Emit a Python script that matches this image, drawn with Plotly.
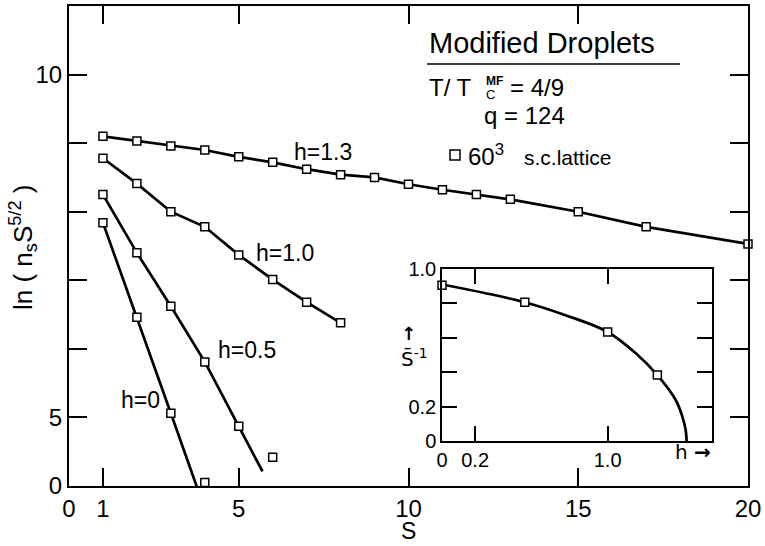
import plotly.graph_objects as go

# ---------------- data ----------------
s_h13 = [1, 2, 3, 4, 5, 6, 7, 8, 9, 10, 11, 12, 13, 15, 17, 20]
y_h13 = [9.10, 9.03, 8.96, 8.90, 8.80, 8.72, 8.62, 8.54, 8.50, 8.40, 8.32, 8.25, 8.18, 8.00, 7.78, 7.53]
s_h10 = [1, 2, 3, 4, 5, 6, 7, 8]
y_h10 = [8.78, 8.41, 8.00, 7.78, 7.37, 7.01, 6.68, 6.38]
s_h05 = [1, 2, 3, 4, 5, 6]
y_h05 = [8.25, 7.40, 6.62, 5.81, 4.87, 4.42]
s_h0 = [1, 2, 3, 4]
y_h0 = [7.84, 6.46, 5.06, 4.05]
# where the drawn line stops for the two steep series (last point is off the line)
line_end_h0 = 3.9
line_end_h05 = 5.7

labels = ["h=1.3", "h=1.0", "h=0.5", "h=0"]

x_tickvals = [0, 1, 5, 10, 15, 20]
x_ticktext = ["0", "1", "5", "10", "15", "20"]
y_tickvals = [4, 5, 6, 7, 8, 9, 10]
y_ticktext = ["0", "5", "", "", "", "", "10"]

# inset: inverse mean cluster size vs h
h_pts = [0.0, 0.5, 1.0, 1.3]
sinv_pts = [0.905, 0.807, 0.634, 0.383]
curve_h = [0.0, 0.25, 0.5, 0.75, 1.0, 1.17, 1.3, 1.41, 1.45, 1.47, 1.477]
curve_y = [0.91, 0.862, 0.807, 0.73, 0.634, 0.51, 0.383, 0.24, 0.145, 0.07, 0.0]
inset_xtickvals = [0, 0.2, 1.0]
inset_xticktext = ["0", "0.2", "1.0"]
inset_ytickvals = [0, 0.2, 0.4, 0.6, 0.8, 1.0]
inset_yticktext = ["0", "0.2", "", "", "", "1.0"]

FONT = "Liberation Sans"
W, H = 765, 546
ML, MR, MT, MB = 69, 17, 6, 60
PW, PH = W - ML - MR, H - MT - MB


def px(x):
    return (x - ML) / PW


def py(y):
    return (H - MB - y) / PH


def extend(xs, ys, x_end):
    # continue the last drawn segment up to x_end
    x1, x2 = xs[-2], xs[-1]
    y1, y2 = ys[-2], ys[-1]
    slope = (y2 - y1) / (x2 - x1)
    return list(xs) + [x_end], list(ys) + [y2 + slope * (x_end - x2)]


fig = go.Figure()

line_style = dict(color="black", width=2.7)
marker_style = dict(symbol="square", size=8, color="white", line=dict(color="black", width=1.5))

lines = [
    (s_h13, y_h13),
    (s_h10, y_h10),
    extend(s_h05[:-1], y_h05[:-1], line_end_h05),
    extend(s_h0[:-1], y_h0[:-1], line_end_h0),
]
for xs, ys in lines:
    fig.add_trace(go.Scatter(x=xs, y=ys, mode="lines", line=line_style,
                             showlegend=False, hoverinfo="skip"))
for xs, ys in [(s_h13, y_h13), (s_h10, y_h10), (s_h05, y_h05), (s_h0, y_h0)]:
    fig.add_trace(go.Scatter(x=xs, y=ys, mode="markers", marker=marker_style,
                             showlegend=False, cliponaxis=False))

fig.add_trace(go.Scatter(x=curve_h, y=curve_y, mode="lines", xaxis="x2", yaxis="y2",
                         line=dict(color="black", width=2.7, shape="spline", smoothing=1.0),
                         showlegend=False, hoverinfo="skip"))
fig.add_trace(go.Scatter(x=h_pts, y=sinv_pts, mode="markers", xaxis="x2", yaxis="y2",
                         marker=marker_style, showlegend=False, cliponaxis=False))

axis_common = dict(showline=True, linecolor="black", mirror="ticks", ticks="inside",
                   tickcolor="black", showgrid=False, zeroline=False, automargin=False)

fig.update_layout(
    width=W, height=H,
    margin=dict(l=ML, r=MR, t=MT, b=MB, autoexpand=False),
    paper_bgcolor="white", plot_bgcolor="white",
    font=dict(family=FONT, color="black"),
    xaxis=dict(range=[0, 20], tickvals=x_tickvals, ticktext=x_ticktext,
               linewidth=2, ticklen=18, tickwidth=1.5,
               tickfont=dict(size=24), **axis_common),
    yaxis=dict(range=[4, 11], tickvals=y_tickvals, ticktext=y_ticktext,
               linewidth=2, ticklen=18, tickwidth=1.5,
               tickfont=dict(size=24), **axis_common),
    xaxis2=dict(domain=[px(442), px(712)], anchor="y2", range=[0, 1.63],
                tickvals=inset_xtickvals, ticktext=inset_xticktext,
                linewidth=1.5, ticklen=15, tickwidth=1.5,
                tickfont=dict(size=20), **axis_common),
    yaxis2=dict(domain=[py(441), py(269)], anchor="x2", range=[0, 1],
                tickvals=inset_ytickvals, ticktext=inset_yticktext,
                linewidth=1.5, ticklen=15, tickwidth=1.5,
                tickfont=dict(size=20), **axis_common),
)

ann = []
label_pos = [(323, 152), (285, 253), (247, 350), (140, 400)]
for text, (x, y) in zip(labels, label_pos):
    ann.append(dict(text=text, x=px(x), y=py(y), font=dict(size=23)))

ann.append(dict(text="S", x=px(408), y=py(531), font=dict(size=23)))
ann.append(dict(text="ln ( n<sub>s</sub>S<sup>5/2</sup> )", x=px(23), y=py(248),
                textangle=-90, font=dict(size=26)))

ann.append(dict(text="h <b>→</b>", x=px(693), y=py(452), font=dict(size=20, family="DejaVu Sans")))
ann.append(dict(text="<b>↑</b>", x=px(408), y=py(333), font=dict(size=18, family="DejaVu Sans")))
ann.append(dict(text="S\u0304<sup>-1</sup>", x=px(414), y=py(358), font=dict(size=20, family="DejaVu Sans")))

ann.append(dict(text="Modified Droplets", x=px(427), y=py(43), xanchor="left", font=dict(size=29)))
ann.append(dict(text="T/ T", x=px(427), y=py(88), xanchor="left", font=dict(size=24)))
ann.append(dict(text="<b>MF</b>", x=px(484), y=py(81), xanchor="left", font=dict(size=12)))
ann.append(dict(text="C", x=px(484), y=py(94), xanchor="left", font=dict(size=13)))
ann.append(dict(text="= 4/9", x=px(508), y=py(88), xanchor="left", font=dict(size=24)))
ann.append(dict(text="q = 124", x=px(482), y=py(116), xanchor="left", font=dict(size=24)))
ann.append(dict(text="60<sup>3</sup>", x=px(466), y=py(155), xanchor="left", font=dict(size=24)))
ann.append(dict(text="s.c.lattice", x=px(522), y=py(157), xanchor="left", font=dict(size=21)))

for a in ann:
    a.setdefault("xref", "paper")
    a.setdefault("yref", "paper")
    a.setdefault("xanchor", "center")
    a.setdefault("yanchor", "middle")
    a["showarrow"] = False
fig.update_layout(annotations=ann)

fig.add_shape(type="line", xref="paper", yref="paper",
              x0=px(427), x1=px(680), y0=py(64), y1=py(64),
              line=dict(color="black", width=1.5))
fig.add_shape(type="rect", xref="paper", yref="paper",
              x0=px(450), x1=px(460), y0=py(160), y1=py(150),
              line=dict(color="black", width=1.5), fillcolor="white")

fig.write_html("out.html")
